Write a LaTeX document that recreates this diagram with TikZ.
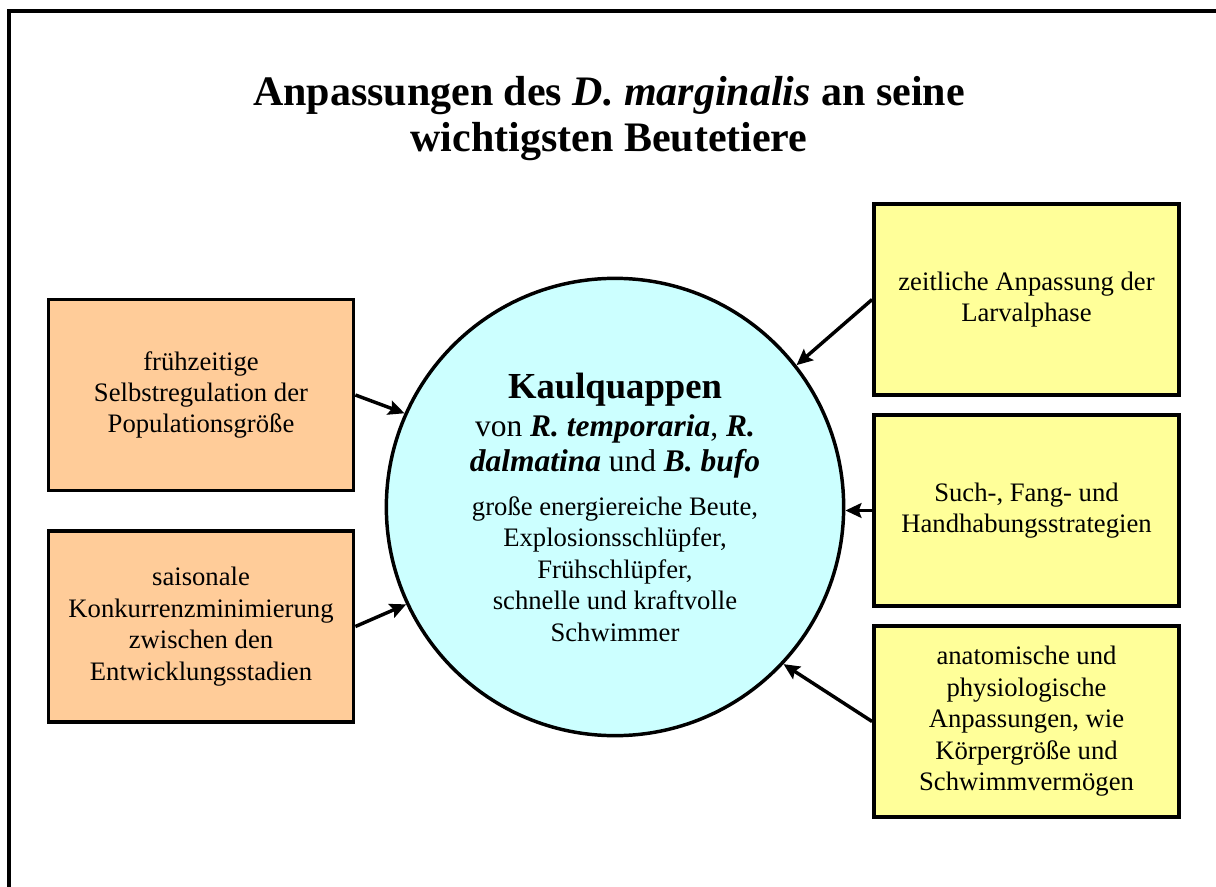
\documentclass[tikz,border=0pt]{standalone}
\usepackage{fontspec}
\setmainfont{Liberation Serif}
\usetikzlibrary{arrows.meta,positioning}
\definecolor{apricot}{HTML}{FFCC99}
\definecolor{paleyellow}{HTML}{FFFF99}
\definecolor{palecyan}{HTML}{CCFFFF}
\newcommand{\taxon}[1]{\textbf{\textit{#1}}}

\begin{document}
\begin{tikzpicture}[x=.75pt,y=-.75pt,font=\fontsize{20}{23.6}\selectfont,
  box/.style={draw,line width=2.6pt,minimum width=229pt,minimum height=143pt,align=center},
  arr/.style={line width=2.6pt,-{Stealth[length=12pt,width=11pt,inset=2pt]}}]
\clip(0,0)rectangle(1216,887);
\draw[line width=2.4pt](9,11)rectangle(1240,910);
\node[font=\fontsize{31.5}{34.5}\selectfont\bfseries,align=center](title)at(609,119){Anpassungen des \textit{D. marginalis} an seine\\wichtigsten Beutetiere};
% center
\node[circle,draw,line width=2.6pt,fill=palecyan,minimum size=343pt,inner sep=0pt,align=center](kq)at(615,507){%
{\fontsize{27.5}{30}\selectfont\bfseries Kaulquappen}\\[5pt]
{\fontsize{23.6}{26}\selectfont von \taxon{R. temporaria}, \taxon{R.}}\\[2.6pt]
{\fontsize{23.6}{26}\selectfont \taxon{dalmatina} und \taxon{B. bufo}}\\[9.4pt]
große energiereiche Beute,\\Explosionsschlüpfer,\\Frühschlüpfer,\\schnelle und kraftvolle\\Schwimmer};
% left
\node[box,fill=apricot](lb1)at(201,395){frühzeitige\\Selbstregulation der\\Populationsgröße};
\node[box,fill=apricot](lb2)at(201,626.5){saisonale\\Konkurrenzminimierung\\zwischen den\\Entwicklungsstadien};
% right
\node[box,fill=paleyellow](rb1)at(1026.5,299.5){zeitliche Anpassung der\\Larvalphase};
\node[box,fill=paleyellow](rb2)at(1026.5,510.5){Such-, Fang- und\\Handhabungsstrategien};
\node[box,fill=paleyellow](rb3)at(1026.5,721.5){anatomische und\\physiologische\\Anpassungen, wie\\Körpergröße und\\Schwimmvermögen};
\draw[arr](lb1.east)--(kq.156);
\draw[arr](lb2.east)--(kq.205);
\draw[arr](rb1.west)--(kq.38);
\draw[arr](rb2.west)--(rb2.west-|kq.east);
\draw[arr](rb3.west)--(kq.-43);
\end{tikzpicture}
\end{document}
